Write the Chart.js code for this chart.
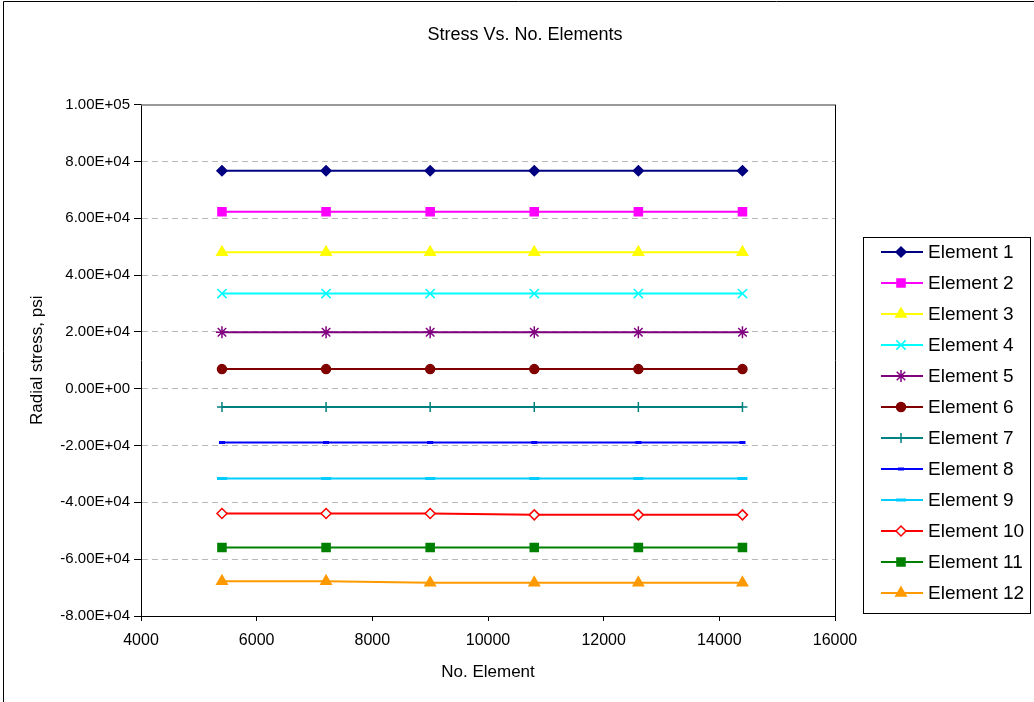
<!DOCTYPE html>
<html>
<head>
<meta charset="utf-8">
<script src="https://cdn.jsdelivr.net/npm/chart.js@4/dist/chart.umd.min.js"></script>
<style>
  body { margin: 0; background: #fff; }
  canvas { display: block; }
</style>
</head>
<body>
<canvas id="stressChart" width="1034" height="702"></canvas>
<script>
// number of elements (x values)
var noElements = [5400, 7200, 9000, 10800, 12600, 14400];

// radial stress, psi, one array per element
var element1 = [76700, 76700, 76700, 76700, 76700, 76700];
var element2 = [62300, 62300, 62300, 62300, 62300, 62300];
var element3 = [48000, 48000, 48000, 48000, 48000, 48000];
var element4 = [33500, 33500, 33500, 33500, 33500, 33500];
var element5 = [19900, 19900, 19900, 19900, 19900, 19900];
var element6 = [6900, 6900, 6900, 6900, 6900, 6900];
var element7 = [-6400, -6400, -6400, -6400, -6400, -6400];
var element8 = [-18900, -18900, -18900, -18900, -18900, -18900];
var element9 = [-31600, -31600, -31600, -31600, -31600, -31600];
var element10 = [-43900, -43900, -43900, -44400, -44400, -44400];
var element11 = [-55900, -55900, -55900, -55900, -55900, -55900];
var element12 = [-67800, -67800, -68300, -68300, -68300, -68300];

var seriesNames = ['Element 1','Element 2','Element 3','Element 4','Element 5','Element 6',
    'Element 7','Element 8','Element 9','Element 10','Element 11','Element 12'];
var seriesValues = [element1, element2, element3, element4, element5, element6,
    element7, element8, element9, element10, element11, element12];

// axis tick labels
var xTickLabels = ['4000','6000','8000','10000','12000','14000','16000'];
var yTickLabels = ['-8.00E+04','-6.00E+04','-4.00E+04','-2.00E+04','0.00E+00',
    '2.00E+04','4.00E+04','6.00E+04','8.00E+04','1.00E+05'];

// look of each series: color, marker, marker size, marker fill
var styles = [
    {c: '#000080', p: 'rectRot', r: 5, f: '#000080'},
    {c: '#FF00FF', p: 'rect', r: 5.7, f: '#FF00FF'},
    {c: '#FFFF00', p: 'triangle', r: 6, f: '#FFFF00'},
    {c: '#00FFFF', p: 'crossRot', r: 6.5, f: '#00FFFF'},
    {c: '#800080', p: 'star', r: 6, f: '#800080'},
    {c: '#800000', p: 'circle', r: 4.5, f: '#800000'},
    {c: '#008080', p: 'cross', r: 5, f: '#008080'},
    {c: '#0000FF', p: 'line', r: 3, f: '#0000FF', bw: 3},
    {c: '#00CCFF', p: 'line', r: 5, f: '#00CCFF', bw: 3},
    {c: '#FF0000', p: 'rectRot', r: 5, f: '#EAFFFF'},
    {c: '#008000', p: 'rect', r: 5.7, f: '#008000'},
    {c: '#FF9900', p: 'triangle', r: 6, f: '#FF9900'}
];

var font = "'Liberation Sans', Arial, sans-serif";

var datasets = seriesValues.map(function(vals, i) {
    var s = styles[i];
    return {
        label: seriesNames[i],
        data: vals.map(function(v, j) { return {x: noElements[j], y: v}; }),
        borderColor: s.c,
        backgroundColor: s.f,
        borderWidth: 2,
        pointStyle: s.p,
        pointRadius: s.r,
        pointBorderWidth: s.bw || 1.5,
        pointBorderColor: s.c,
        pointBackgroundColor: s.f,
        tension: 0
    };
});

// plot frame and outer border
var framePlugin = {
    id: 'frame',
    beforeDraw: function(chart) {
        var ctx = chart.ctx;
        ctx.save();
        ctx.fillStyle = '#fff';
        ctx.fillRect(0, 0, chart.width, chart.height);
        ctx.strokeStyle = '#000';
        ctx.lineWidth = 1;
        ctx.beginPath();
        ctx.moveTo(3.5, chart.height);
        ctx.lineTo(3.5, 1.5);
        ctx.lineTo(chart.width, 1.5);
        ctx.stroke();
        ctx.restore();
    },
    beforeDatasetsDraw: function(chart) {
        var a = chart.chartArea, ctx = chart.ctx;
        ctx.save();
        ctx.strokeStyle = '#777';
        ctx.lineWidth = 1.5;
        ctx.beginPath();
        ctx.moveTo(a.left, a.top + 0.5);
        ctx.lineTo(a.right, a.top + 0.5);
        ctx.stroke();
        ctx.strokeStyle = '#000';
        ctx.lineWidth = 1;
        ctx.beginPath();
        ctx.moveTo(Math.round(a.right) + 0.5, a.top);
        ctx.lineTo(Math.round(a.right) + 0.5, a.bottom);
        ctx.stroke();
        ctx.restore();
    }
};

// excel style legend box: line with marker, then name
var legendPlugin = {
    id: 'boxLegend',
    afterDraw: function(chart) {
        var ctx = chart.ctx;
        ctx.save();
        ctx.strokeStyle = '#000';
        ctx.lineWidth = 1;
        ctx.strokeRect(863.5, 237.5, 167, 376);
        ctx.font = '19px ' + font;
        ctx.textBaseline = 'middle';
        ctx.textAlign = 'left';
        chart.data.datasets.forEach(function(ds, i) {
            var y = 252 + i * 31;
            ctx.strokeStyle = ds.borderColor;
            ctx.lineWidth = 2;
            ctx.beginPath();
            ctx.moveTo(881, y);
            ctx.lineTo(923, y);
            ctx.stroke();
            ctx.fillStyle = ds.pointBackgroundColor;
            ctx.strokeStyle = ds.pointBorderColor;
            ctx.lineWidth = ds.pointBorderWidth;
            Chart.helpers.drawPoint(ctx, {pointStyle: ds.pointStyle, radius: ds.pointRadius,
                rotation: 0, borderWidth: ds.pointBorderWidth}, 901, y);
            ctx.fillStyle = '#000';
            ctx.fillText(ds.label, 928, y + 1);
        });
        ctx.restore();
    }
};

var ctx = document.getElementById('stressChart').getContext('2d');
var stressChart = new Chart(ctx, {
    type: 'line',
    data: { datasets: datasets },
    plugins: [framePlugin, legendPlugin],
    options: {
        responsive: false,
        animation: false,
        events: [],
        layout: { padding: { left: 16, right: 0, top: 0, bottom: 0 } },
        plugins: {
            legend: { display: false },
            tooltip: { enabled: false },
            title: {
                display: true,
                text: 'Stress Vs. No. Elements',
                color: '#000',
                font: { family: font, size: 18, weight: 'normal' },
                padding: { top: 24, bottom: 59 }
            }
        },
        scales: {
            x: {
                type: 'linear',
                min: 4000,
                max: 16000,
                afterFit: function(scale) { scale.height = 86; },
                afterBuildTicks: function(scale) {
                    scale.ticks = xTickLabels.map(function(t) { return {value: Number(t)}; });
                },
                ticks: {
                    color: '#000',
                    font: { family: font, size: 16 },
                    padding: 10,
                    maxRotation: 0,
                    callback: function(v, i) { return xTickLabels[i]; }
                },
                grid: {
                    drawOnChartArea: false,
                    tickLength: 5,
                    tickColor: '#000'
                },
                border: { display: true, color: '#000', width: 1 },
                title: {
                    display: true,
                    text: 'No. Element',
                    color: '#000',
                    font: { family: font, size: 17 },
                    padding: { top: 0, bottom: 19 }
                }
            },
            y: {
                type: 'linear',
                min: -80000,
                max: 100000,
                afterFit: function(scale) { scale.width = 125; },
                ticks: {
                    stepSize: 20000,
                    color: '#000',
                    font: { family: font, size: 15 },
                    padding: 4,
                    callback: function(v, i) { return yTickLabels[i]; }
                },
                grid: {
                    color: function(c) {
                        if (c.tick && (c.tick.value === 100000 || c.tick.value === -80000)) return 'rgba(0,0,0,0)';
                        return '#b8b8b8';
                    },
                    tickLength: 7,
                    tickColor: '#000',
                    tickBorderDash: []
                },
                border: { display: true, color: '#000', width: 1, dash: [6, 4] },
                title: {
                    display: true,
                    text: 'Radial stress, psi',
                    color: '#000',
                    font: { family: font, size: 17 },
                    padding: { top: 11, bottom: 0 }
                }
            },
            // empty right-hand axis that keeps room for the legend box
            yRight: {
                type: 'linear',
                position: 'right',
                display: true,
                min: -80000,
                max: 100000,
                afterFit: function(scale) { scale.width = 199; },
                ticks: { display: false },
                grid: { display: false },
                border: { display: false }
            }
        }
    }
});
</script>
</body>
</html>
